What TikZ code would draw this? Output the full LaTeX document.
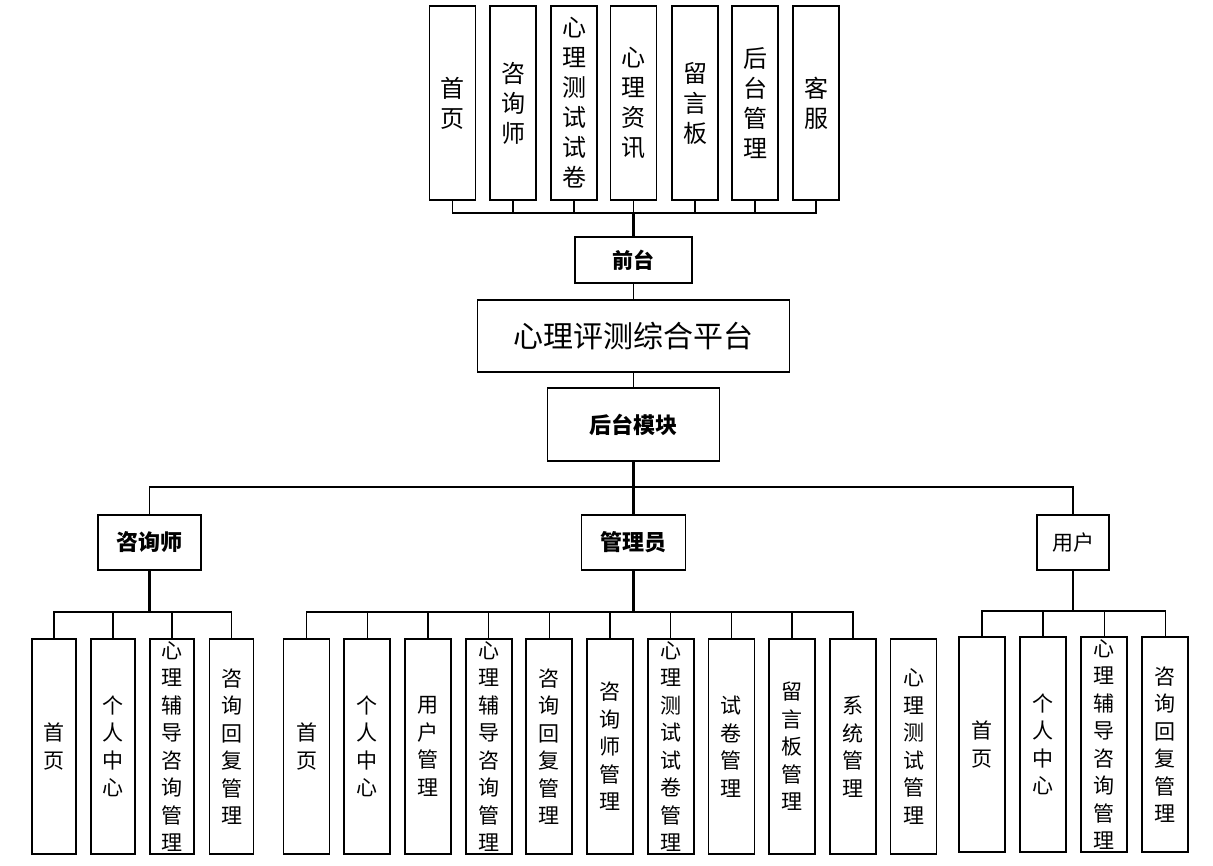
\documentclass[tikz,border=0pt]{standalone}
\usepackage{fontspec}
\newfontfamily\cjk{Noto Sans CJK SC}
\begin{document}
\begin{tikzpicture}[x=1pt,y=-1pt,
  box/.style={draw, line width=1.8pt, inner sep=0pt, align=center, fill=white},
  topbox/.style={box, minimum width=46pt, minimum height=194pt, font=\cjk\fontsize{24}{30}\selectfont},
  leaf/.style={box, minimum width=46pt, minimum height=215pt, font=\cjk\fontsize{21}{27.5}\selectfont},
  head/.style={box, font=\cjk\bfseries\fontsize{21}{26}\selectfont},
  bus/.style={line width=1.4pt},
  trunk/.style={line width=2.6pt}
]
\useasboundingbox (0,0) rectangle (1213,865);
\fill[white] (0,0) rectangle (1213,865);

% top row
\node[topbox] (t1) at (452.5,103) {首\\页};
\node[topbox] (t2) at (513,103) {咨\\询\\师};
\node[topbox] (t3) at (574,103) {心\\理\\测\\试\\试\\卷};
\node[topbox] (t4) at (633.5,103) {心\\理\\资\\讯};
\node[topbox] (t5) at (695,103) {留\\言\\板};
\node[topbox] (t6) at (755,103) {后\\台\\管\\理};
\node[topbox] (t7) at (816,103) {客\\服};

% middle
\node[head, minimum width=117pt, minimum height=46pt] (qt) at (633.5,260) {前台};
\node[box, minimum width=312pt, minimum height=72pt, font=\cjk\fontsize{30}{36}\selectfont] (pt) at (633.5,336) {心理评测综合平台};
\node[head, minimum width=172pt, minimum height=73pt, font=\cjk\bfseries\fontsize{22}{26}\selectfont] (ht) at (633.5,424.5) {后台模块};

% level 2
\node[head, minimum width=103pt, minimum height=55pt, font=\cjk\bfseries\fontsize{22}{26}\selectfont] (zx) at (149.5,542.5) {咨询师};
\node[head, minimum width=104pt, minimum height=55pt, font=\cjk\bfseries\fontsize{22}{26}\selectfont] (gl) at (633.5,542.5) {管理员};
\node[box, minimum width=72pt, minimum height=55pt, font=\cjk\fontsize{21}{26}\selectfont] (yh) at (1073,542.5) {用户};

% bus coordinates
\coordinate (topbus) at (633.5,213);
\coordinate (midbus) at (633.5,487);
\coordinate (zxbus) at (149.5,612);
\coordinate (glbus) at (633.5,612);
\coordinate (yhbus) at (1073,611);

% top connectors
\foreach \i in {1,...,7} { \draw[bus] (t\i.south) |- (topbus); }
\draw[trunk] (topbus) -- (qt.north);
\draw[bus] (qt.south) -- (pt.north);
\draw[bus] (pt.south) -- (ht.north);

% level 2 connectors
\draw[bus] (zx.north) |- (midbus);
\draw[bus] (yh.north) |- (midbus);
\draw[trunk] (ht.south) -- (gl.north);

% consultant group
\node[leaf, minimum width=44pt] (z1) at (54,746.5) {首\\页};
\node[leaf, minimum width=44pt] (z2) at (113,746.5) {个\\人\\中\\心};
\node[leaf, minimum width=44pt] (z3) at (172,746.5) {心\\理\\辅\\导\\咨\\询\\管\\理};
\node[leaf, minimum width=44pt] (z4) at (231.5,746.5) {咨\\询\\回\\复\\管\\理};
\foreach \i in {1,...,4} { \draw[bus] (z\i.north) |- (zxbus); }
\draw[trunk] (zx.south) -- (zxbus);

% admin group
\foreach \t [count=\i] in {{首\\页},{个\\人\\中\\心},{用\\户\\管\\理},{心\\理\\辅\\导\\咨\\询\\管\\理},{咨\\询\\回\\复\\管\\理},{咨\\询\\师\\管\\理},{心\\理\\测\\试\\试\\卷\\管\\理},{试\\卷\\管\\理},{留\\言\\板\\管\\理},{系\\统\\管\\理},{心\\理\\测\\试\\管\\理}} {
  \node[leaf] (g\i) at ({306.5+60.7*(\i-1)},746.5) {\t};
}
\foreach \i in {1,...,10} { \draw[bus] (g\i.north) |- (glbus); }
\draw[trunk] (gl.south) -- (glbus);

% user group
\node[leaf] (y1) at (982,744.5) {首\\页};
\node[leaf] (y2) at (1043,744.5) {个\\人\\中\\心};
\node[leaf] (y3) at (1104.3,744.5) {心\\理\\辅\\导\\咨\\询\\管\\理};
\node[leaf] (y4) at (1165.2,744.5) {咨\\询\\回\\复\\管\\理};
\foreach \i in {1,...,4} { \draw[bus] (y\i.north) |- (yhbus); }
\draw[trunk] (yh.south) -- (yhbus);
\end{tikzpicture}
\end{document}
